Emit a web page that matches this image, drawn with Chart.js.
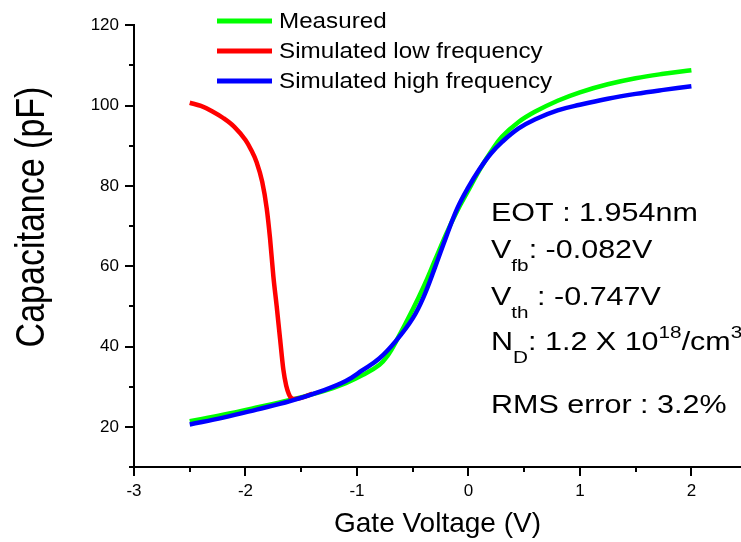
<!DOCTYPE html>
<html><head><meta charset="utf-8">
<script src="https://cdn.jsdelivr.net/npm/chart.js@4/dist/chart.umd.min.js"></script>
<style>html,body{margin:0;padding:0;background:#fff;overflow:hidden}#wrap{width:741px;height:542px;position:relative}</style>
</head><body><div id="wrap"><canvas id="c" width="741" height="542"></canvas></div>
<script>
// ---- data ----
const measuredV = [-2.5, -2.2, -1.9, -1.6, -1.3, -1.1, -0.95, -0.8, -0.72, -0.65, -0.5, -0.4, -0.3, -0.2, -0.1, 0.0, 0.1, 0.2, 0.3, 0.45, 0.6, 0.8, 1.0, 1.25, 1.5, 1.75, 2.0];
const measuredC = [21.4, 23.0, 24.8, 26.7, 28.9, 30.9, 32.9, 35.4, 37.9, 41.2, 49.2, 55.0, 61.5, 68.0, 73.8, 78.9, 84.0, 88.4, 92.2, 95.9, 98.5, 101.2, 103.3, 105.3, 106.8, 107.9, 108.8];
const lowFreqV = [-2.5, -2.4, -2.3, -2.2, -2.1, -2.0, -1.95, -1.9, -1.85, -1.81, -1.78, -1.75, -1.72, -1.69, -1.66, -1.635, -1.61, -1.59, -1.56, -1.5, -1.4];
const lowFreqC = [100.7, 99.9, 98.6, 96.9, 94.7, 91.4, 89.0, 85.9, 81.0, 74.5, 67.0, 57.5, 50.0, 42.0, 34.2, 30.3, 28.1, 27.2, 26.9, 27.2, 28.3];
const highFreqV = [-2.5, -2.2, -1.9, -1.6, -1.3, -1.1, -0.95, -0.8, -0.65, -0.5, -0.4, -0.3, -0.2, -0.1, 0.0, 0.1, 0.2, 0.3, 0.45, 0.6, 0.8, 1.0, 1.25, 1.5, 1.75, 2.0];
const highFreqC = [20.6, 22.3, 24.3, 26.4, 29.1, 31.4, 34.1, 37.0, 41.4, 47.0, 52.5, 59.7, 67.3, 74.4, 79.7, 84.2, 88.0, 90.9, 94.3, 96.6, 98.8, 100.2, 101.7, 102.9, 103.9, 104.8];
const seriesLabels = ['Measured', 'Simulated low frequency', 'Simulated high frequency'];
const seriesColors = ['#00ff00', '#ff0000', '#0000ff'];
const xTickLabels = [-3, -2, -1, 0, 1, 2];
const yTickLabels = [20, 40, 60, 80, 100, 120];
const xTitle = 'Gate Voltage (V)';
const yTitle = 'Capacitance (pF)';
const annotationLines = [
  [['EOT : 1.954nm', 'n']],
  [['V', 'n'], ['fb', 'sub'], [': -0.082V', 'n']],
  [['V', 'n'], ['th', 'sub'], [' : -0.747V', 'n']],
  [['N', 'n'], ['D', 'sub'], [': 1.2 X 10', 'n'], ['18', 'sup'], ['/cm', 'n'], ['3', 'sup']],
  [['RMS error : 3.2%', 'n']]
];

const FONT = '"Liberation Sans", Arial, sans-serif';
function pts(xs, ys) { return xs.map((x, i) => ({x: x, y: ys[i]})); }

const decor = {
  id: 'decor',
  afterDraw(chart) {
    const ctx = chart.ctx;
    const xs = chart.scales.x, ys = chart.scales.y;
    const ca = chart.chartArea;
    ctx.save();
    ctx.strokeStyle = '#000';
    ctx.lineWidth = 2;
    // tick marks (major + minor)
    for (let k = -6; k <= 4; k++) {
      const v = k / 2;
      const px = Math.round(xs.getPixelForValue(v));
      const len = (k % 2 === 0) ? 9 : 5;
      ctx.beginPath(); ctx.moveTo(px, ca.bottom); ctx.lineTo(px, ca.bottom + len); ctx.stroke();
    }
    for (let v = 10; v <= 120; v += 10) {
      const py = Math.round(ys.getPixelForValue(v));
      const len = (v % 20 === 0) ? 9 : 5;
      ctx.beginPath(); ctx.moveTo(ca.left, py); ctx.lineTo(ca.left - len, py); ctx.stroke();
    }
    // axis titles
    ctx.fillStyle = '#000';
    ctx.textAlign = 'center';
    ctx.textBaseline = 'alphabetic';
    ctx.font = '28px ' + FONT;
    ctx.fillText(xTitle, (ca.left + ca.right) / 2, 532);
    ctx.save();
    ctx.translate(44, 217);
    ctx.rotate(-Math.PI / 2);
    ctx.scale(1, 1.18);
    ctx.font = '34px ' + FONT;
    ctx.fillText(yTitle, 0, 0);
    ctx.restore();
    // legend
    ctx.textAlign = 'left';
    ctx.textBaseline = 'middle';
    chart.data.datasets.forEach((ds, i) => {
      const y = 21 + 30 * i;
      ctx.strokeStyle = ds.borderColor;
      ctx.lineWidth = 5;
      ctx.beginPath(); ctx.moveTo(217, y); ctx.lineTo(272, y); ctx.stroke();
      ctx.save();
      ctx.translate(279, y + 1);
      ctx.scale(1.1, 1);
      ctx.font = '22px ' + FONT;
      ctx.fillStyle = '#000';
      ctx.fillText(ds.label, 0, 0);
      ctx.restore();
    });
    // annotation
    const baselines = [221, 258, 305, 350, 413];
    ctx.textBaseline = 'alphabetic';
    annotationLines.forEach((segs, li) => {
      ctx.save();
      ctx.translate(491, baselines[li]);
      ctx.scale(1.22, 1);
      let cx = 0;
      segs.forEach(([t, type]) => {
        let size = 25, dy = 0;
        if (type === 'sub') { size = 17; dy = 13; }
        if (type === 'sup') { size = 17; dy = -12; }
        ctx.font = size + 'px ' + FONT;
        ctx.fillText(t, cx, dy);
        cx += ctx.measureText(t).width;
      });
      ctx.restore();
    });
    ctx.restore();
  }
};

const common = {borderWidth: 4.5, pointRadius: 0, fill: false, borderCapStyle: 'butt'};
const datasets = [
  Object.assign({label: seriesLabels[0], data: pts(measuredV, measuredC), borderColor: seriesColors[0], order: 3, tension: 0.4}, common),
  Object.assign({label: seriesLabels[1], data: pts(lowFreqV, lowFreqC), borderColor: seriesColors[1], order: 2, cubicInterpolationMode: 'monotone'}, common),
  Object.assign({label: seriesLabels[2], data: pts(highFreqV, highFreqC), borderColor: seriesColors[2], order: 1, tension: 0.4}, common)
];

new Chart(document.getElementById('c'), {
  type: 'line',
  data: {datasets: datasets},
  options: {
    responsive: false,
    animation: false,
    devicePixelRatio: 1,
    layout: {padding: {left: 0, top: 19, right: 0, bottom: 0}},
    plugins: {legend: {display: false}, tooltip: {enabled: false}},
    scales: {
      x: {
        type: 'linear', position: 'bottom', min: -3, max: 2.445,
        afterBuildTicks: s => { s.ticks = xTickLabels.map(v => ({value: v})); },
        afterFit: s => { s.height = 75; },
        grid: {display: false, drawTicks: false},
        border: {display: true, color: '#000', width: 2},
        ticks: {padding: 14, color: '#000', font: {family: FONT, size: 17}, maxRotation: 0, autoSkip: false,
          callback: v => String(v)}
      },
      y: {
        type: 'linear', position: 'left', min: 10, max: 120,
        afterBuildTicks: s => { s.ticks = yTickLabels.map(v => ({value: v})); },
        afterFit: s => { s.width = 134; },
        grid: {display: false, drawTicks: false},
        border: {display: true, color: '#000', width: 2},
        ticks: {padding: 15, color: '#000', font: {family: FONT, size: 17}, autoSkip: false,
          callback: v => String(v)}
      }
    }
  },
  plugins: [decor]
});
</script></body></html>
